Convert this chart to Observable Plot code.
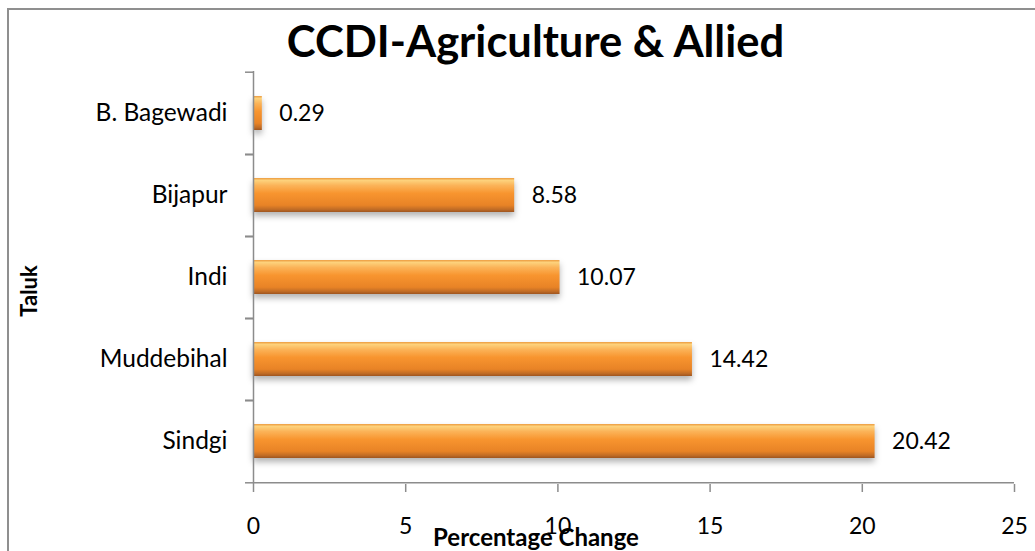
<!DOCTYPE html>
<html>
<head>
<meta charset="utf-8">
<script src="https://cdn.jsdelivr.net/npm/d3@7"></script>
<script src="https://cdn.jsdelivr.net/npm/@observablehq/plot@0.6"></script>
<style>
  html, body { margin: 0; padding: 0; background: #fff; }
  #chart {
    position: relative; width: 1035px; height: 551px; overflow: hidden;
    font-family: Lato, "Open Sans", sans-serif; color: #000;
  }
  #frame {
    position: absolute; left: 7px; top: 8px; width: 1100px; height: 700px;
    border: 2px solid #8f8f8f; box-sizing: border-box; pointer-events: none;
  }
  #title {
    height: 60px; line-height: 60px; text-align: center;
    font-weight: 700; font-size: 43.5px; padding-left: 36px; padding-top: 10px; box-sizing: border-box;
    white-space: nowrap;
  }
</style>
</head>
<body>
<div id="chart">
  <div id="frame"></div>
  <div id="title">CCDI-Agriculture &amp; Allied</div>
</div>
<script>
// Taluks (top to bottom) and their percentage change
const taluks = ["B. Bagewadi", "Bijapur", "Indi", "Muddebihal", "Sindgi"];
const changes = [0.29, 8.58, 10.07, 14.42, 20.42];
const xTicks = [0, 5, 10, 15, 20, 25];

const data = taluks.map((t, i) => ({taluk: t, value: changes[i]}));

const W = 1035, H = 491;
const mTop = 11, mBottom = 67;
const halfStep = (H - mTop - mBottom) / taluks.length / 2;
const axisGrey = "#8c8c8c";

const plot = Plot.plot({
  width: W,
  height: H,
  marginLeft: 253,
  marginRight: 21,
  marginTop: mTop,
  marginBottom: mBottom,
  style: {fontFamily: "Lato, 'Open Sans', sans-serif", background: "transparent", overflow: "visible"},
  x: {domain: [0, 25]},
  y: {domain: taluks, paddingInner: 0.58, paddingOuter: 0.29},
  marks: [
    // bars with a glossy vertical gradient
    Plot.barX(data, {x: "value", y: "taluk", fill: "url(#barGrad)"}),
    // value labels
    Plot.text(data, {x: "value", y: "taluk", text: d => d.value.toFixed(2), textAnchor: "start", dx: 17, fontSize: 23, fill: "#000"}),
    // axis lines
    Plot.ruleX([0], {stroke: axisGrey, strokeWidth: 1.5}),
    Plot.ruleY([taluks[taluks.length - 1]], {x1: 0, x2: 25, dy: halfStep, stroke: axisGrey, strokeWidth: 1.5}),
    // category tick marks sit on the boundaries between bands
    Plot.axisY({tickSize: 8, tickFormat: () => "", label: null, dy: -halfStep, stroke: axisGrey, strokeWidth: 1.5}),
    Plot.axisY({tickSize: 8, tickFormat: () => "", label: null, dy: halfStep, stroke: axisGrey, strokeWidth: 1.5}),
    // category labels
    Plot.axisY({tickSize: 0, tickPadding: 26, label: null, fontSize: 24.5, fill: "#000"}),
    // x axis
    Plot.axisX({ticks: xTicks, tickSize: 8, tickPadding: 25, label: null, fontSize: 23, stroke: axisGrey, strokeWidth: 1.5, fill: "#000"}),
    // axis titles
    Plot.text(["Percentage Change"], {frameAnchor: "bottom", lineAnchor: "middle", dx: -98, dy: 54, fontSize: 24, fontWeight: "bold", fill: "#000"}),
    Plot.text(["Taluk"], {frameAnchor: "left", textAnchor: "middle", dx: -224, dy: 13, rotate: -90, fontSize: 22, fontWeight: "bold", fill: "#000"})
  ]
});

const svg = d3.select(plot);
const defs = svg.insert("defs", ":first-child");
const grad = defs.append("linearGradient").attr("id", "barGrad")
  .attr("x1", 0).attr("y1", 0).attr("x2", 0).attr("y2", 1);
[[0, "#ec9a3e"], [0.07, "#fdd27c"], [0.22, "#fbb358"], [0.45, "#f8952f"], [0.8, "#e88326"], [0.92, "#c26d26"], [1, "#9e5520"]]
  .forEach(([o, c]) => grad.append("stop").attr("offset", o).attr("stop-color", c));

svg.selectAll("g[aria-label='bar'] rect")
  .style("filter", "drop-shadow(0px 4px 3px rgba(0,0,0,0.3))");

document.getElementById("chart").appendChild(plot);
</script>
</body>
</html>
